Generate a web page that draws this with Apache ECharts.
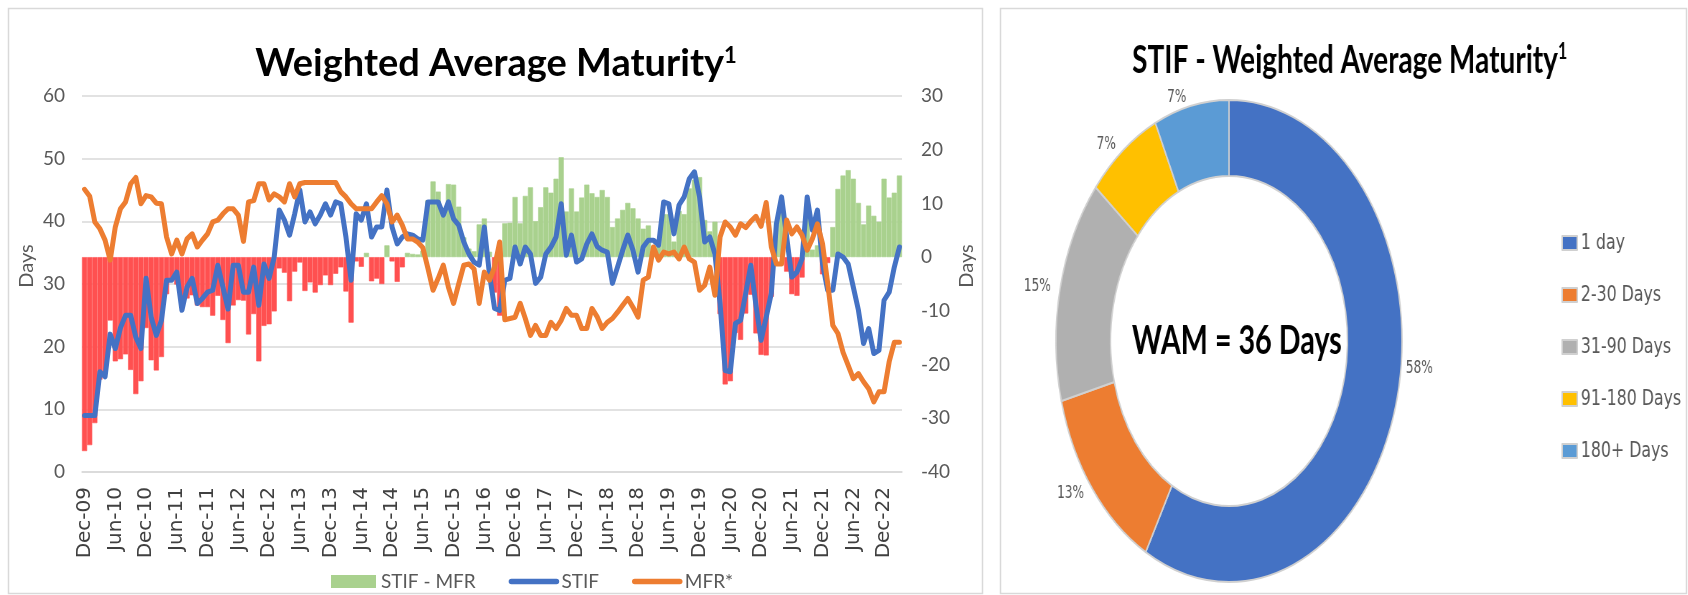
<!DOCTYPE html>
<html>
<head>
<meta charset="utf-8">
<script src="https://cdn.jsdelivr.net/npm/echarts@6/dist/echarts.min.js"></script>
<style>
html, body { margin: 0; padding: 0; background: #fff; overflow: hidden; }
#main { position: absolute; left: 0; top: 0; width: 1688px; height: 595px; }
/* the doughnut is an ellipse in the original, so its chart is squeezed sideways */
#ring { position: absolute; left: 529px; top: 0; width: 1400px; height: 595px; transform: scaleX(0.718); transform-origin: 700px 0; }
</style>
</head>
<body>
<div id="main"></div>
<div id="ring"></div>
<script>
// months Dec-09 .. Mar-23
var monthNames = ['Jan', 'Feb', 'Mar', 'Apr', 'May', 'Jun', 'Jul', 'Aug', 'Sep', 'Oct', 'Nov', 'Dec'];
var months = [];
for (var i = 0; i < 160; i++) {
	var m = (11 + i) % 12, y = 9 + Math.floor((11 + i) / 12);
	months.push(monthNames[m] + '-' + (y < 10 ? '0' + y : y));
}

// STIF WAM, days (left axis)
var stif = [9.0, 9.0, 9.0, 16.0, 15.2, 22.0, 19.7, 23.0, 25.0, 25.0, 21.5, 19.7,
	30.9, 24.7, 21.8, 24.2, 30.6, 30.6, 31.9, 25.8, 29.5, 30.9, 26.9, 27.7,
	28.7, 29.0, 33.0, 29.5, 26.0, 33.0, 33.0, 28.7, 28.7, 32.7, 26.6, 33.2,
	30.9, 34.3, 41.8, 40.2, 37.8, 41.2, 45.0, 39.9, 41.5, 39.6, 41.0, 42.8,
	41.0, 43.1, 42.8, 37.5, 30.6, 41.2, 40.2, 42.8, 37.5, 39.1, 39.1, 45.0,
	39.1, 36.4, 37.5, 38.0, 37.8, 37.2, 37.0, 43.1, 43.1, 43.1, 41.0, 43.1,
	40.4, 39.4, 36.7, 34.8, 33.5, 33.0, 39.1, 31.6, 26.1, 25.8, 30.6, 30.9,
	35.9, 33.2, 35.9, 34.8, 30.1, 31.1, 34.8, 35.9, 37.5, 42.8, 34.6, 37.8,
	33.5, 34.0, 36.4, 38.0, 36.0, 35.4, 35.1, 30.1, 32.7, 35.4, 37.8, 35.4,
	31.9, 35.9, 37.0, 37.0, 36.2, 43.1, 42.8, 38.0, 42.6, 43.9, 46.8, 47.9,
	43.9, 36.7, 37.5, 34.8, 26.9, 16.2, 16.0, 23.7, 24.2, 28.5, 33.0, 26.6,
	21.0, 24.7, 28.5, 39.6, 43.9, 37.5, 31.1, 31.9, 34.0, 43.9, 38.6, 41.8,
	33.2, 29.0, 29.0, 34.8, 34.3, 33.2, 29.5, 25.8, 20.5, 22.9, 18.9, 19.4,
	27.4, 28.7, 32.7, 35.9];

// MFR* WAM, days (left axis)
var mfr = [45.1, 44.0, 39.9, 38.8, 37.0, 33.8, 39.1, 42.0, 43.1, 46.0, 47.0, 42.8,
	44.1, 43.9, 42.9, 42.8, 37.5, 34.8, 37.0, 34.8, 37.2, 38.0, 35.9, 37.0,
	38.0, 39.9, 40.2, 41.2, 42.0, 42.0, 41.0, 36.8, 43.1, 43.3, 46.0, 46.0,
	43.4, 44.4, 43.9, 43.1, 46.0, 43.9, 46.0, 46.2, 46.2, 46.2, 46.2, 46.2,
	46.2, 46.2, 44.7, 43.9, 42.8, 42.0, 42.0, 42.0, 42.0, 43.1, 44.1, 42.8,
	39.9, 41.0, 39.4, 37.2, 37.2, 36.7, 35.8, 32.5, 29.0, 30.9, 33.0, 29.5,
	26.9, 30.0, 33.0, 33.2, 32.4, 26.9, 31.9, 30.6, 32.7, 36.7, 24.3, 24.5,
	24.7, 26.9, 24.5, 21.8, 23.4, 21.8, 21.8, 23.9, 22.9, 24.2, 26.1, 25.0,
	25.0, 22.9, 22.9, 26.1, 24.8, 22.9, 23.9, 24.5, 25.5, 26.6, 27.7, 26.3,
	24.7, 30.6, 31.1, 35.9, 33.8, 35.1, 34.8, 35.1, 34.0, 35.9, 34.0, 33.5,
	29.0, 29.8, 32.7, 28.2, 37.5, 39.9, 39.1, 37.8, 39.6, 39.0, 40.0, 40.8,
	39.2, 43.0, 35.9, 33.2, 33.2, 40.2, 38.0, 39.1, 37.8, 35.4, 37.2, 39.6,
	36.4, 30.1, 23.4, 22.1, 19.1, 17.0, 14.9, 15.7, 14.4, 13.3, 11.2, 12.8,
	12.8, 17.6, 20.7, 20.7];

// STIF - MFR, days (right axis)
var spread = [-36.1, -35.0, -30.9, -22.8, -21.8, -11.8, -19.4, -19.0, -18.1, -21.0, -25.5, -23.1,
	-13.2, -19.2, -21.1, -18.6, -6.9, -4.2, -5.1, -9.0, -7.7, -7.1, -9.0, -9.3,
	-9.3, -10.9, -7.2, -11.7, -16.0, -9.0, -8.0, -8.1, -14.4, -10.6, -19.4, -12.8,
	-12.5, -10.1, -2.1, -2.9, -8.2, -2.7, -1.0, -6.3, -4.7, -6.6, -5.2, -3.4,
	-5.2, -3.1, -1.9, -6.4, -12.2, -0.8, -1.8, 0.8, -4.5, -4.0, -5.0, 2.2,
	-0.8, -4.6, -1.9, 0.8, 0.6, 0.5, 1.2, 10.6, 14.1, 12.2, 8.0, 13.6,
	13.5, 9.4, 3.7, 1.6, 1.1, 6.1, 7.2, 1.0, -6.6, -10.9, 6.3, 6.4,
	11.2, 6.3, 11.4, 13.0, 6.7, 9.3, 13.0, 12.0, 14.6, 18.6, 8.5, 12.8,
	8.5, 11.1, 13.5, 11.9, 11.2, 12.5, 11.2, 5.6, 7.2, 8.8, 10.1, 9.1,
	7.2, 5.3, 5.9, 1.1, 2.4, 8.0, 8.0, 2.9, 8.6, 8.0, 12.8, 14.4,
	14.9, 6.9, 4.8, 6.6, -10.6, -23.7, -23.1, -14.1, -15.4, -10.5, -7.0, -14.2,
	-18.2, -18.3, -7.4, 6.4, 10.7, -2.7, -6.9, -7.2, -3.8, 8.5, 1.4, 2.2,
	-3.2, -1.1, 5.6, 12.7, 15.2, 16.2, 14.6, 10.1, 6.1, 9.6, 7.7, 6.6,
	14.6, 11.1, 12.0, 15.2];

// doughnut
var buckets = ['1 day', '2-30 Days', '31-90 Days', '91-180 Days', '180+ Days'];
var bucketShare = [58, 13, 15, 7, 7];
var bucketColors = ['#4472C4', '#ED7D31', '#B0B0B0', '#FFC000', '#5B9BD5'];

var red = '#FF5050', green = '#A9D18E', blue = '#4472C4', orange = '#ED7D31';
var grey = '#595959', gridGrey = '#D9D9D9';

var main = echarts.init(document.getElementById('main'));
main.setOption({
	animation : false,
	textStyle : {fontFamily : 'Lato'},
	grid : {left : 82, right : 786, top : 96, bottom : 123},
	legend : {
		left : 326,
		top : 567,
		itemWidth : 45,
		itemHeight : 13,
		itemGap : 33,
		textStyle : {color : grey, fontSize : 19, fontFamily : 'Lato'},
		data : [{name : 'STIF - MFR', icon : 'rect', itemStyle : {borderWidth : 0}},
			{name : 'STIF', itemStyle : {opacity : 0}, lineStyle : {width : 5.5, cap : 'round'}},
			{name : 'MFR*', itemStyle : {opacity : 0}, lineStyle : {width : 5.5, cap : 'round'}}]
	},
	xAxis : {
		type : 'category',
		data : months,
		axisLine : {onZero : false, lineStyle : {color : gridGrey, width : 1.5}},
		axisTick : {interval : 5, alignWithLabel : true, length : 7, lineStyle : {color : gridGrey, width : 1.5}},
		axisLabel : {interval : 5, rotate : 90, margin : 15, color : '#404040', fontFamily : 'DejaVu Sans', fontSize : 20}
	},
	yAxis : [{
		type : 'value', min : 0, max : 60, interval : 10,
		axisLabel : {color : grey, fontSize : 19, margin : 17},
		splitLine : {lineStyle : {color : gridGrey, width : 1.5}}
	}, {
		type : 'value', min : -40, max : 30, interval : 10,
		axisLabel : {color : grey, fontSize : 19, margin : 19},
		splitLine : {show : false}
	}],
	series : [{
		name : 'STIF - MFR',
		type : 'bar',
		yAxisIndex : 1,
		barCategoryGap : '0%',
		itemStyle : {color : green},
		// outline in the fill colour so neighbouring bars close up
		data : spread.map(function(v) {
			var c = v < 0 ? red : green;
			return {value : v, itemStyle : {color : c, borderColor : c, borderWidth : 0.6}};
		})
	}, {
		name : 'STIF',
		type : 'line',
		symbol : 'none',
		data : stif,
		itemStyle : {color : blue},
		lineStyle : {color : blue, width : 5, cap : 'round', join : 'round'}
	}, {
		name : 'MFR*',
		type : 'line',
		symbol : 'none',
		data : mfr,
		itemStyle : {color : orange},
		lineStyle : {color : orange, width : 5, cap : 'round', join : 'round'}
	}],
	graphic : [{
		type : 'rect', silent : true,
		shape : {x : 8.5, y : 8.5, width : 974, height : 585},
		style : {fill : 'none', stroke : gridGrey, lineWidth : 1.5}
	}, {
		type : 'rect', silent : true,
		shape : {x : 1000.5, y : 8.5, width : 686, height : 585},
		style : {fill : 'none', stroke : gridGrey, lineWidth : 1.5}
	}, {
		type : 'text', x : 496, y : 64,
		style : {
			text : '{t|Weighted Average Maturity}{s|1}',
			align : 'center', verticalAlign : 'middle',
			rich : {
				t : {fontFamily : 'Lato', fontWeight : 'bold', fontSize : 38, fill : '#000'},
				s : {fontFamily : 'Lato', fontWeight : 'bold', fontSize : 22, fill : '#000', verticalAlign : 'top'}
			}
		}
	}, {
		type : 'text', x : 27, y : 266, rotation : Math.PI / 2,
		style : {text : 'Days', align : 'center', verticalAlign : 'middle', fill : grey, font : '20px Lato'}
	}, {
		type : 'text', x : 967, y : 266, rotation : Math.PI / 2,
		style : {text : 'Days', align : 'center', verticalAlign : 'middle', fill : grey, font : '20px Lato'}
	}]
});

var ring = echarts.init(document.getElementById('ring'));
ring.setOption({
	animation : false,
	legend : {
		orient : 'vertical',
		left : 1158,
		top : 227,
		itemWidth : 21,
		itemHeight : 14,
		itemGap : 30,
		icon : 'rect',
		textStyle : {color : grey, fontFamily : 'DejaVu Sans', fontSize : 22, lineHeight : 22},
		data : buckets
	},
	series : [{
		type : 'pie',
		center : [700, 341],
		radius : [165, 241],
		startAngle : 90,
		clockwise : true,
		avoidLabelOverlap : false,
		emphasis : {disabled : true},
		label : {position : 'outside', formatter : '{c}%', color : grey, fontFamily : 'DejaVu Sans', fontSize : 17},
		labelLine : {show : false, length : 8, length2 : 0},
		// the big slice's label sits higher in the original
		labelLayout : function(p) {
			return p.dataIndex === 0 ? {dy : -34} : {};
		},
		itemStyle : {borderColor : '#D0D0D0', borderWidth : 2},
		data : buckets.map(function(n, k) {
			return {name : n, value : bucketShare[k], itemStyle : {color : bucketColors[k]}};
		})
	}],
	graphic : [{
		type : 'text', x : 868, y : 60,
		style : {
			text : '{t|STIF - Weighted Average Maturity}{s|1}',
			align : 'center', verticalAlign : 'middle',
			rich : {
				t : {fontFamily : 'Lato', fontWeight : 'bold', fontSize : 39, fill : '#000'},
				s : {fontFamily : 'Lato', fontWeight : 'bold', fontSize : 22, fill : '#000', verticalAlign : 'top'}
			}
		}
	}, {
		type : 'text', x : 711, y : 341,
		style : {text : 'WAM = 36 Days', align : 'center', verticalAlign : 'middle', fill : '#000', font : 'bold 40px Lato'}
	}]
});
</script>
</body>
</html>
